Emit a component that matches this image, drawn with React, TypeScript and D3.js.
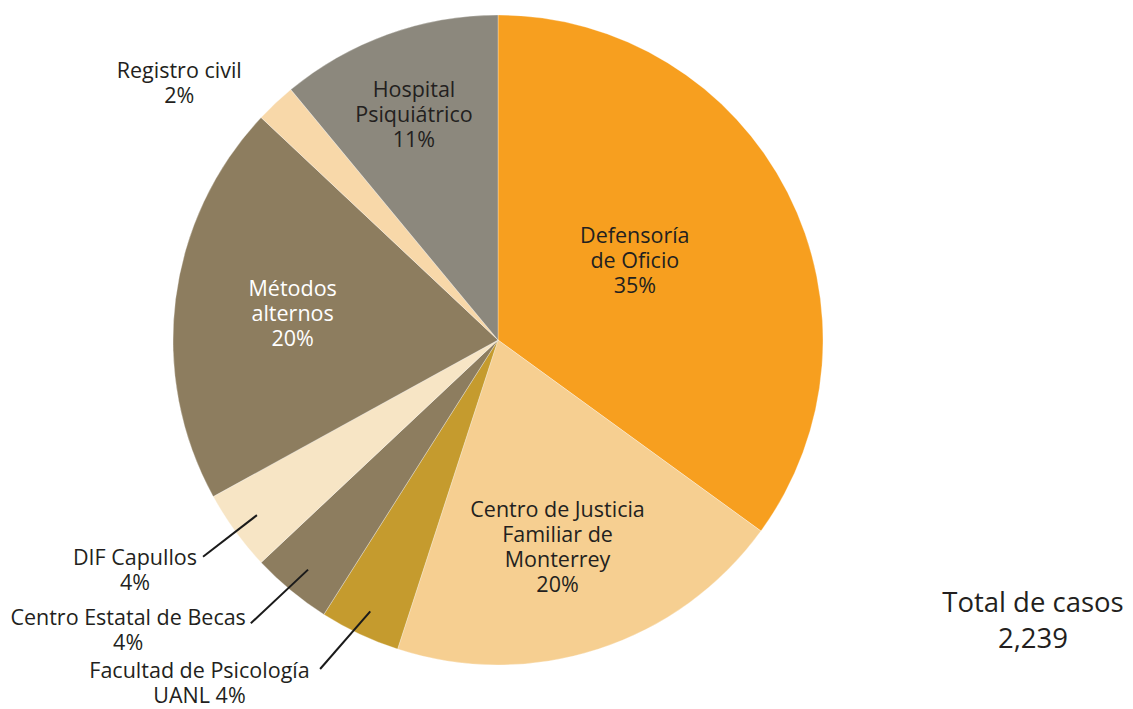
import { useEffect, useRef } from 'react'
import * as d3 from 'd3'

// Slices clockwise from 12 o'clock
const categories = [
  'Defensoría de Oficio',
  'Centro de Justicia Familiar de Monterrey',
  'Facultad de Psicología UANL',
  'Centro Estatal de Becas',
  'DIF Capullos',
  'Métodos alternos',
  'Registro civil',
  'Hospital Psiquiátrico',
]
const shares = [35, 20, 4, 4, 4, 20, 2, 11]
const labelLines = [
  ['Defensoría', 'de Oficio', '35%'],
  ['Centro de Justicia', 'Familiar de', 'Monterrey', '20%'],
  ['Facultad de Psicología', 'UANL 4%'],
  ['Centro Estatal de Becas', '4%'],
  ['DIF Capullos', '4%'],
  ['Métodos', 'alternos', '20%'],
  ['Registro civil', '2%'],
  ['Hospital', 'Psiquiátrico', '11%'],
]
const totalLabel = 'Total de casos'
const totalValue = '2,239'

const colors = ['#F79F1F', '#F6CF91', '#C59B2E', '#8D7D5F', '#F7E5C5', '#8D7D5F', '#F8D8A9', '#8C887D']

// label placement: polar radius / angle tweak (deg) for text block centre, optional leader line
const placement = [
  { r: 158, da: -3 },
  { r: 216, da: 2 },
  { r: 455, da: 15.8, leader: { r0: 300, r1: 374, da1: 3.2 } },
  { r: 470, da: 12.3, leader: { r0: 298, r1: 376, da1: 1.5 } },
  { r: 430, da: 3.6, leader: { r0: 298, r1: 366, da1: -0.3 } },
  { r: 207, da: 0 },
  { r: 409, da: -8 },
  { r: 240, da: -0.7 },
]

const W = 1133
const H = 709
const cx = 498
const cy = 340
const radius = 325
const font = '"Open Sans", Lato, sans-serif'
const lineH = 25

export default function App() {
  const ref = useRef<SVGSVGElement>(null)

  useEffect(() => {
    if (!ref.current) return
    const svg = d3.select(ref.current)
    svg.selectAll('*').remove()

    const data = categories.map((c, i) => ({ name: c, value: shares[i], i }))
    const pie = d3.pie<any>().sort(null).value((d) => d.value)
    const arcs = pie(data)
    const arc = d3.arc<any>().innerRadius(0).outerRadius(radius)

    const g = svg.append('g').attr('transform', `translate(${cx},${cy})`)

    g.selectAll('path.slice')
      .data(arcs)
      .join('path')
      .attr('class', 'slice')
      .attr('d', arc)
      .attr('fill', (d) => colors[d.data.i])
      .attr('stroke', '#ffffff')
      .attr('stroke-opacity', 0.5)
      .attr('stroke-width', 0.6)

    const polar = (r: number, a: number) => [r * Math.sin(a), -r * Math.cos(a)]

    arcs.forEach((d) => {
      const p = placement[d.data.i]
      const mid = (d.startAngle + d.endAngle) / 2
      if (p.leader) {
        const [x0, y0] = polar(p.leader.r0, mid)
        const [x1, y1] = polar(p.leader.r1, mid + (p.leader.da1 * Math.PI) / 180)
        g.append('line')
          .attr('x1', x0).attr('y1', y0)
          .attr('x2', x1).attr('y2', y1)
          .attr('stroke', '#1a1a1a')
          .attr('stroke-width', 2)
      }
      const [tx, ty] = polar(p.r, mid + (p.da * Math.PI) / 180)
      const lines = labelLines[d.data.i]
      const top = ty - ((lines.length - 1) * lineH) / 2 + 7
      const t = g.append('text')
        .attr('text-anchor', 'middle')
        .attr('font-family', font)
        .attr('font-size', 21.5)
        .attr('fill', d.data.name === 'Métodos alternos' ? '#ffffff' : '#231f20')
      lines.forEach((ln, k) => {
        t.append('tspan').attr('x', tx).attr('y', top + k * lineH).text(ln)
      })
    })

    const tot = svg.append('text')
      .attr('text-anchor', 'middle')
      .attr('font-family', font)
      .attr('font-size', 27.5)
      .attr('fill', '#231f20')
    tot.append('tspan').attr('x', 1033).attr('y', 612).text(totalLabel)
    tot.append('tspan').attr('x', 1033).attr('y', 648).text(totalValue)
  }, [])

  return (
    <div style={{ position: 'absolute', left: 0, top: 0, width: W, height: H, background: '#fff' }}>
      <svg ref={ref} width={W} height={H} style={{ display: 'block' }} />
    </div>
  )
}
